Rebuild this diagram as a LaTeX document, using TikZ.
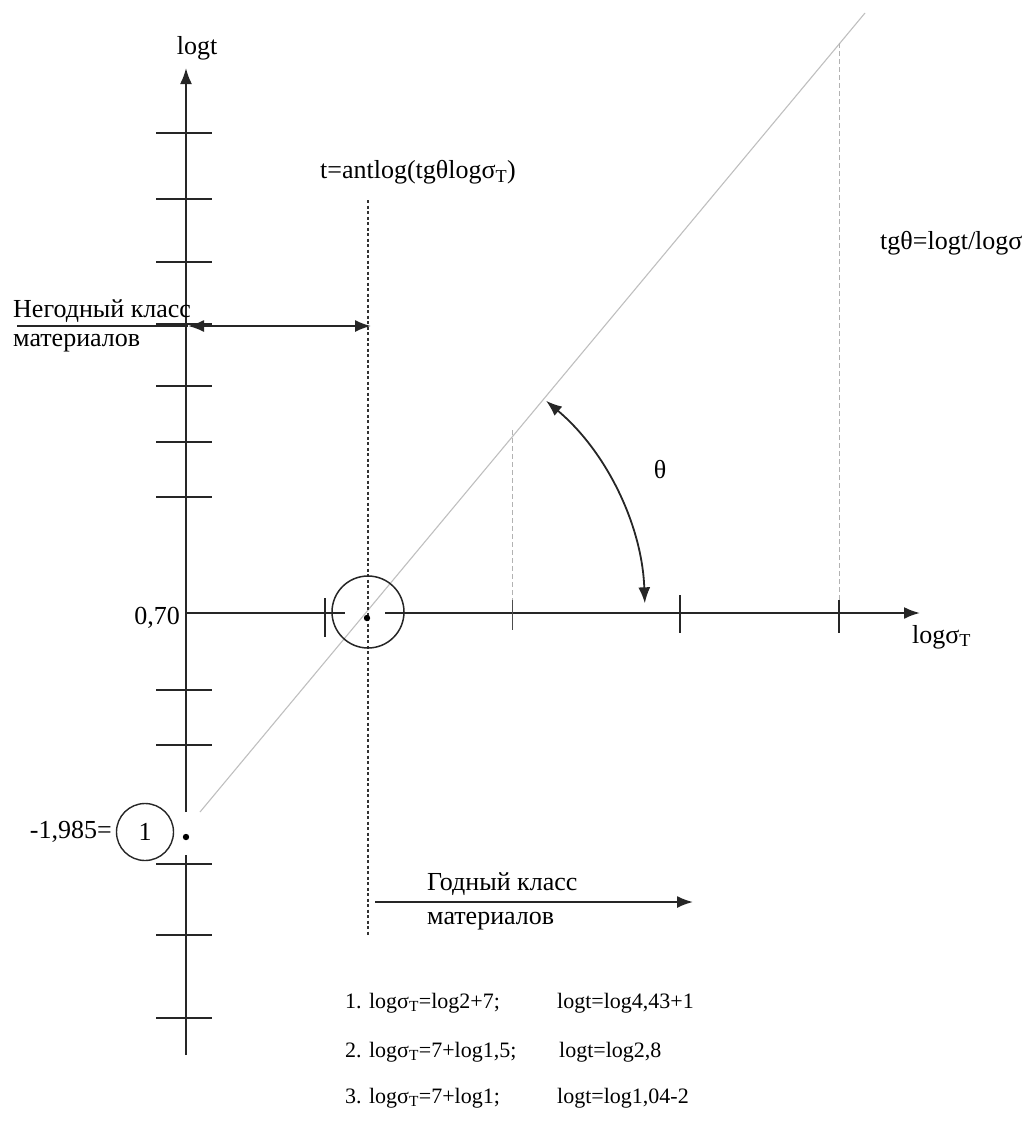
\documentclass[tikz,border=0pt]{standalone}
\usepackage{fontspec}
\setmainfont{Liberation Serif}
\usetikzlibrary{arrows.meta}
\begin{document}
\begin{tikzpicture}[x=1pt,y=-1pt,
  font=\fontsize{26}{30}\selectfont,
  axis/.style={line width=2.1pt,draw=black!85},
  tickmark/.style={line width=1.7pt,draw=black!85},
  tip/.style={-{Latex[length=16pt,width=12pt]}},
  dbltip/.style={{Latex[length=16pt,width=12pt]}-{Latex[length=16pt,width=12pt]}},
  guide/.style={line width=0.9pt,draw=black!30,dash pattern=on 5pt off 3pt},
  dotline/.style={line width=1.4pt,draw=black!80,dash pattern=on 3pt off 2.5pt},
  diag/.style={line width=1.1pt,draw=black!25},
  lbl/.style={inner sep=0pt},
  formula/.style={inner sep=0pt,anchor=west,font=\fontsize{22}{26}\selectfont}]
\useasboundingbox (0,0) rectangle (1031,1122);

% key points
\coordinate (O) at (186,613);
\coordinate (ytop) at (186,68);
\coordinate (ybrkA) at (186,812);
\coordinate (ybrkB) at (186,855);
\coordinate (ybot) at (186,1055);
\coordinate (xend) at (920,613);
\coordinate (xgapA) at (345,613);
\coordinate (xgapB) at (385,613);

% diagonal line
\coordinate (dA) at (200,812);
\coordinate (dB) at (865,13);
\draw[diag] (dA) -- (dB);

% dashed light guides
\coordinate (g1t) at (512,430);
\coordinate (g1b) at (512,613);
\coordinate (g2t) at (839,43);
\coordinate (g2b) at (839,613);
\draw[guide] (g1t) -- (g1b);
\draw[guide] (g2t) -- (g2b);

% dotted boundary line
\coordinate (vt) at (368,200);
\coordinate (vb) at (368,935);
\draw[dotline] (vt) -- (vb);

% axes
\draw[axis,tip] (ybrkA) -- (ytop);
\draw[axis] (ybot) -- (ybrkB);
\draw[axis] (O) -- (xgapA);
\draw[axis,tip] (xgapB) -- (xend);

% ticks on vertical axis
\foreach \yy in {133,199,262,324,386,442,497,690,745,864,935,1018}
  \draw[tickmark] (156,\yy) -- (212,\yy);

% ticks on horizontal axis
\draw[tickmark] (325,598) -- (325,637);
\draw[line width=1pt,draw=black!70] (512,600) -- (512,630);
\draw[tickmark] (680,595) -- (680,633);
\draw[tickmark] (839,600) -- (839,633);

% circle around intersection
\node[draw=black!85,line width=1.5pt,circle,minimum size=72pt,inner sep=0pt] (circP) at (368,612) {};
\fill (367,618) circle (3.2pt);

% point 1
\node[draw=black!85,line width=1.4pt,circle,minimum size=57pt,inner sep=0pt] (c1) at (145,832) {1};
\fill (186,837) circle (3.2pt);
\node[lbl,anchor=east] (v1985) at (112,832) {-1,985=};

% theta arc
\coordinate (arcS) at ({368+277*cos(50)},{613-277*sin(50)});
\draw[line width=1.8pt,draw=black!85,dbltip]
  (arcS) arc[start angle=50,end angle=2,radius=277pt];
\node[lbl] (theta) at (660,470) {θ};

% unsuitable class arrow
\coordinate (nL) at (17,326);
\coordinate (nA) at (188,326);
\coordinate (nB) at (371,326);
\draw[axis] (nL) -- (nA);
\draw[line width=1.8pt,draw=black!85,dbltip] (nA) -- (nB);
\node[lbl,anchor=west] (neg1) at (13,311) {Негодный класс};
\node[lbl,anchor=west] (neg2) at (13,343) {материалов};

% suitable class arrow
\coordinate (gA) at (375,902);
\coordinate (gB) at (693,902);
\draw[line width=1.8pt,draw=black!85,tip] (gA) -- (gB);
\node[lbl,anchor=west] (god1) at (427,884) {Годный класс};
\node[lbl,anchor=west] (god2) at (427,921) {материалов};

% axis labels
\node[lbl] (logt) at (197,48) {logt};
\node[lbl,anchor=west] (logs) at (912,637) {logσ\textsubscript{T}};
\node[lbl,anchor=east] (v070) at (180,618) {0,70};
\node[lbl] (antlog) at (418,172) {t=antlog(tgθlogσ\textsubscript{T})};
\node[lbl,anchor=west] (tgth) at (880,243) {tgθ=logt/logσ};

% formulas
\node[formula] (f1a) at (345,1003) {1. logσ\textsubscript{T}=log2+7;};
\node[formula] (f1b) at (557,1003) {logt=log4,43+1};
\node[formula] (f2a) at (345,1052) {2. logσ\textsubscript{T}=7+log1,5;};
\node[formula] (f2b) at (559,1052) {logt=log2,8};
\node[formula] (f3a) at (345,1098) {3. logσ\textsubscript{T}=7+log1;};
\node[formula] (f3b) at (557,1098) {logt=log1,04-2};
\end{tikzpicture}
\end{document}
